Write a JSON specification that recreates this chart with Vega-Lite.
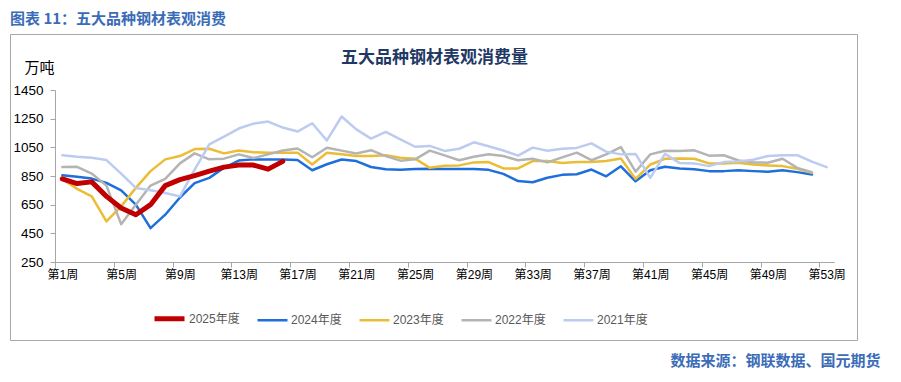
{
  "$schema": "https://vega.github.io/schema/vega-lite/v6.json",
  "width": 847,
  "height": 306,
  "autosize": {"type": "none"},
  "padding": {"left": 10, "top": 34, "right": 44, "bottom": 42},
  "background": "white",
  "config": {"view": {"stroke": "#a8a8a8", "strokeWidth": 1, "fill": "white"}},
  "title": {
    "text": "图表 11：五大品种钢材表观消费",
    "anchor": "start",
    "frame": "group",
    "orient": "top",
    "offset": 11,
    "dy": 15.5,
    "baseline": "alphabetic",
    "font": "Noto Sans CJK SC",
    "fontSize": 15,
    "fontWeight": "bold",
    "color": "#3b6cb7"
  },
  "data": {
    "values": [
      {"w":1,"s":"2025年度","v":830},{"w":2,"s":"2025年度","v":797},{"w":3,"s":"2025年度","v":809},{"w":4,"s":"2025年度","v":708},{"w":5,"s":"2025年度","v":627},{"w":6,"s":"2025年度","v":580},{"w":7,"s":"2025年度","v":650},{"w":8,"s":"2025年度","v":783},{"w":9,"s":"2025年度","v":825},{"w":10,"s":"2025年度","v":853},{"w":11,"s":"2025年度","v":884},{"w":12,"s":"2025年度","v":912},{"w":13,"s":"2025年度","v":926},{"w":14,"s":"2025年度","v":926},{"w":15,"s":"2025年度","v":898},{"w":16,"s":"2025年度","v":952},
      {"w":1,"s":"2024年度","v":856},{"w":2,"s":"2024年度","v":844},{"w":3,"s":"2024年度","v":832},{"w":4,"s":"2024年度","v":802},{"w":5,"s":"2024年度","v":750},{"w":6,"s":"2024年度","v":650},{"w":7,"s":"2024年度","v":486},{"w":8,"s":"2024年度","v":580},{"w":9,"s":"2024年度","v":700},{"w":10,"s":"2024年度","v":800},{"w":11,"s":"2024年度","v":837},{"w":12,"s":"2024年度","v":907},{"w":13,"s":"2024年度","v":958},{"w":14,"s":"2024年度","v":966},{"w":15,"s":"2024年度","v":965},{"w":16,"s":"2024年度","v":965},{"w":17,"s":"2024年度","v":962},{"w":18,"s":"2024年度","v":890},{"w":19,"s":"2024年度","v":932},{"w":20,"s":"2024年度","v":965},{"w":21,"s":"2024年度","v":954},{"w":22,"s":"2024年度","v":913},{"w":23,"s":"2024年度","v":897},{"w":24,"s":"2024年度","v":894},{"w":25,"s":"2024年度","v":898},{"w":26,"s":"2024年度","v":900},{"w":27,"s":"2024年度","v":898},{"w":28,"s":"2024年度","v":898},{"w":29,"s":"2024年度","v":899},{"w":30,"s":"2024年度","v":893},{"w":31,"s":"2024年度","v":865},{"w":32,"s":"2024年度","v":815},{"w":33,"s":"2024年度","v":806},{"w":34,"s":"2024年度","v":838},{"w":35,"s":"2024年度","v":858},{"w":36,"s":"2024年度","v":862},{"w":37,"s":"2024年度","v":895},{"w":38,"s":"2024年度","v":848},{"w":39,"s":"2024年度","v":918},{"w":40,"s":"2024年度","v":813},{"w":41,"s":"2024年度","v":890},{"w":42,"s":"2024年度","v":914},{"w":43,"s":"2024年度","v":902},{"w":44,"s":"2024年度","v":897},{"w":45,"s":"2024年度","v":884},{"w":46,"s":"2024年度","v":884},{"w":47,"s":"2024年度","v":890},{"w":48,"s":"2024年度","v":884},{"w":49,"s":"2024年度","v":880},{"w":50,"s":"2024年度","v":890},{"w":51,"s":"2024年度","v":877},{"w":52,"s":"2024年度","v":860},
      {"w":1,"s":"2023年度","v":830},{"w":2,"s":"2023年度","v":760},{"w":3,"s":"2023年度","v":708},{"w":4,"s":"2023年度","v":533},{"w":5,"s":"2023年度","v":638},{"w":6,"s":"2023年度","v":767},{"w":7,"s":"2023年度","v":884},{"w":8,"s":"2023年度","v":966},{"w":9,"s":"2023年度","v":989},{"w":10,"s":"2023年度","v":1038},{"w":11,"s":"2023年度","v":1040},{"w":12,"s":"2023年度","v":1008},{"w":13,"s":"2023年度","v":1028},{"w":14,"s":"2023年度","v":1015},{"w":15,"s":"2023年度","v":1013},{"w":16,"s":"2023年度","v":1013},{"w":17,"s":"2023年度","v":1013},{"w":18,"s":"2023年度","v":930},{"w":19,"s":"2023年度","v":1012},{"w":20,"s":"2023年度","v":1001},{"w":21,"s":"2023年度","v":989},{"w":22,"s":"2023年度","v":989},{"w":23,"s":"2023年度","v":994},{"w":24,"s":"2023年度","v":978},{"w":25,"s":"2023年度","v":971},{"w":26,"s":"2023年度","v":907},{"w":27,"s":"2023年度","v":922},{"w":28,"s":"2023年度","v":924},{"w":29,"s":"2023年度","v":945},{"w":30,"s":"2023年度","v":947},{"w":31,"s":"2023年度","v":903},{"w":32,"s":"2023年度","v":903},{"w":33,"s":"2023年度","v":954},{"w":34,"s":"2023年度","v":954},{"w":35,"s":"2023年度","v":940},{"w":36,"s":"2023年度","v":947},{"w":37,"s":"2023年度","v":947},{"w":38,"s":"2023年度","v":954},{"w":39,"s":"2023年度","v":972},{"w":40,"s":"2023年度","v":830},{"w":41,"s":"2023年度","v":930},{"w":42,"s":"2023年度","v":970},{"w":43,"s":"2023年度","v":972},{"w":44,"s":"2023年度","v":970},{"w":45,"s":"2023年度","v":938},{"w":46,"s":"2023年度","v":938},{"w":47,"s":"2023年度","v":943},{"w":48,"s":"2023年度","v":930},{"w":49,"s":"2023年度","v":924},{"w":50,"s":"2023年度","v":919},{"w":51,"s":"2023年度","v":900},{"w":52,"s":"2023年度","v":872},
      {"w":1,"s":"2022年度","v":912},{"w":2,"s":"2022年度","v":914},{"w":3,"s":"2022年度","v":867},{"w":4,"s":"2022年度","v":783},{"w":5,"s":"2022年度","v":514},{"w":6,"s":"2022年度","v":650},{"w":7,"s":"2022年度","v":783},{"w":8,"s":"2022年度","v":830},{"w":9,"s":"2022年度","v":938},{"w":10,"s":"2022年度","v":1008},{"w":11,"s":"2022年度","v":966},{"w":12,"s":"2022年度","v":971},{"w":13,"s":"2022年度","v":1001},{"w":14,"s":"2022年度","v":975},{"w":15,"s":"2022年度","v":1001},{"w":16,"s":"2022年度","v":1028},{"w":17,"s":"2022年度","v":1042},{"w":18,"s":"2022年度","v":981},{"w":19,"s":"2022年度","v":1047},{"w":20,"s":"2022年度","v":1027},{"w":21,"s":"2022年度","v":1007},{"w":22,"s":"2022年度","v":1030},{"w":23,"s":"2022年度","v":989},{"w":24,"s":"2022年度","v":957},{"w":25,"s":"2022年度","v":966},{"w":26,"s":"2022年度","v":1027},{"w":27,"s":"2022年度","v":994},{"w":28,"s":"2022年度","v":960},{"w":29,"s":"2022年度","v":984},{"w":30,"s":"2022年度","v":1001},{"w":31,"s":"2022年度","v":989},{"w":32,"s":"2022年度","v":960},{"w":33,"s":"2022年度","v":970},{"w":34,"s":"2022年度","v":945},{"w":35,"s":"2022年度","v":980},{"w":36,"s":"2022年度","v":1013},{"w":37,"s":"2022年度","v":960},{"w":38,"s":"2022年度","v":1001},{"w":39,"s":"2022年度","v":1052},{"w":40,"s":"2022年度","v":880},{"w":41,"s":"2022年度","v":1001},{"w":42,"s":"2022年度","v":1026},{"w":43,"s":"2022年度","v":1024},{"w":44,"s":"2022年度","v":1029},{"w":45,"s":"2022年度","v":992},{"w":46,"s":"2022年度","v":995},{"w":47,"s":"2022年度","v":958},{"w":48,"s":"2022年度","v":945},{"w":49,"s":"2022年度","v":943},{"w":50,"s":"2022年度","v":970},{"w":51,"s":"2022年度","v":907},{"w":52,"s":"2022年度","v":876},
      {"w":1,"s":"2021年度","v":994},{"w":2,"s":"2021年度","v":984},{"w":3,"s":"2021年度","v":978},{"w":4,"s":"2021年度","v":961},{"w":5,"s":"2021年度","v":867},{"w":6,"s":"2021年度","v":767},{"w":7,"s":"2021年度","v":750},{"w":8,"s":"2021年度","v":732},{"w":9,"s":"2021年度","v":708},{"w":10,"s":"2021年度","v":895},{"w":11,"s":"2021年度","v":1071},{"w":12,"s":"2021年度","v":1125},{"w":13,"s":"2021年度","v":1181},{"w":14,"s":"2021年度","v":1215},{"w":15,"s":"2021年度","v":1230},{"w":16,"s":"2021年度","v":1188},{"w":17,"s":"2021年度","v":1160},{"w":18,"s":"2021年度","v":1218},{"w":19,"s":"2021年度","v":1098},{"w":20,"s":"2021年度","v":1265},{"w":21,"s":"2021年度","v":1175},{"w":22,"s":"2021年度","v":1111},{"w":23,"s":"2021年度","v":1158},{"w":24,"s":"2021年度","v":1106},{"w":25,"s":"2021年度","v":1054},{"w":26,"s":"2021年度","v":1060},{"w":27,"s":"2021年度","v":1025},{"w":28,"s":"2021年度","v":1040},{"w":29,"s":"2021年度","v":1085},{"w":30,"s":"2021年度","v":1057},{"w":31,"s":"2021年度","v":1028},{"w":32,"s":"2021年度","v":992},{"w":33,"s":"2021年度","v":1048},{"w":34,"s":"2021年度","v":1026},{"w":35,"s":"2021年度","v":1040},{"w":36,"s":"2021年度","v":1046},{"w":37,"s":"2021年度","v":1078},{"w":38,"s":"2021年度","v":1020},{"w":39,"s":"2021年度","v":1001},{"w":40,"s":"2021年度","v":1004},{"w":41,"s":"2021年度","v":837},{"w":42,"s":"2021年度","v":1004},{"w":43,"s":"2021年度","v":940},{"w":44,"s":"2021年度","v":938},{"w":45,"s":"2021年度","v":919},{"w":46,"s":"2021年度","v":947},{"w":47,"s":"2021年度","v":952},{"w":48,"s":"2021年度","v":963},{"w":49,"s":"2021年度","v":989},{"w":50,"s":"2021年度","v":994},{"w":51,"s":"2021年度","v":995},{"w":52,"s":"2021年度","v":950},{"w":53,"s":"2021年度","v":912}
    ]
  },
  "layer": [
    {
      "transform": [{"filter": "datum.s != '2025年度'"}],
      "mark": {"type": "line", "strokeJoin": "round", "strokeCap": "round"},
      "encoding": {
        "x": {
          "field": "w", "type": "quantitative",
          "scale": {"domain": [0.5, 53.5], "range": [45, 824], "nice": false, "zero": false},
          "axis": {
            "values": [0.5,1.5,2.5,3.5,4.5,5.5,6.5,7.5,8.5,9.5,10.5,11.5,12.5,13.5,14.5,15.5,16.5,17.5,18.5,19.5,20.5,21.5,22.5,23.5,24.5,25.5,26.5,27.5,28.5,29.5,30.5,31.5,32.5,33.5,34.5,35.5,36.5,37.5,38.5,39.5,40.5,41.5,42.5,43.5,44.5,45.5,46.5,47.5,48.5,49.5,50.5,51.5,52.5,53.5],
            "labelExpr": "datum.value % 4 == 0.5 ? '第' + (datum.value + 0.5) + '周' : ''",
            "labelOffset": 7.35,
            "offset": -78,
            "grid": false,
            "domainColor": "#a6a6a6",
            "tickColor": "#a6a6a6",
            "tickSize": 5,
            "labelPadding": 2,
            "labelFontSize": 12,
            "labelFont": "Liberation Sans, Noto Sans CJK SC",
            "labelColor": "#000000",
            "labelFlush": false,
            "labelOverlap": false,
            "labelBound": false,
            "title": "数据来源：钢联数据、国元期货",
            "titleX": 870,
            "titleY": 98,
            "titleAlign": "right",
            "titleBaseline": "middle",
            "titleFont": "Noto Sans CJK SC",
            "titleFontSize": 15,
            "titleFontWeight": "bold",
            "titleColor": "#3b6cb7"
          }
        },
        "y": {
          "field": "v", "type": "quantitative",
          "scale": {"domain": [250, 1450], "range": [228, 56], "nice": false, "zero": false},
          "axis": {
            "orient": "left",
            "offset": -45,
            "values": [250, 450, 650, 850, 1050, 1250, 1450],
            "format": "d",
            "grid": false,
            "domainColor": "#a6a6a6",
            "tickColor": "#a6a6a6",
            "tickSize": 5,
            "labelPadding": 7,
            "labelFontSize": 13.5,
            "labelFont": "Liberation Sans",
            "labelColor": "#000000",
            "labelFlush": false,
            "labelOverlap": false,
            "title": "万吨",
            "titleAngle": 0,
            "titleX": -16,
            "titleY": 33,
            "titleAlign": "center",
            "titleBaseline": "middle",
            "titleFont": "Noto Sans CJK SC",
            "titleFontSize": 15,
            "titleFontWeight": "normal",
            "titleColor": "#000000"
          }
        },
        "color": {
          "field": "s", "type": "nominal",
          "scale": {"domain": ["2025年度","2024年度","2023年度","2022年度","2021年度"], "range": ["#c00000","#1e6fdc","#eabd35","#b4b4b4","#bccbef"]},
          "legend": {"title": null, "orient": "none", "legendX": 142, "legendY": 267, "direction": "horizontal", "symbolType": "stroke", "symbolSize": 900, "labelOffset": 2, "columnPadding": 12, "labelFontSize": 12, "labelFont": "Liberation Sans, Noto Sans CJK SC", "labelColor": "#595959", "padding": 0}
        },
        "strokeWidth": {
          "field": "s", "type": "nominal",
          "scale": {"type": "ordinal", "domain": ["2025年度","2024年度","2023年度","2022年度","2021年度"], "range": [5, 2.5, 2.5, 2.5, 2.5]},
          "legend": {"title": null, "orient": "none", "legendX": 142, "legendY": 267, "direction": "horizontal", "symbolType": "stroke", "symbolSize": 900, "labelOffset": 2, "columnPadding": 12, "labelFontSize": 12, "labelFont": "Liberation Sans, Noto Sans CJK SC", "labelColor": "#595959", "padding": 0}
        }
      }
    },
    {
      "transform": [{"filter": "datum.s == '2025年度'"}],
      "mark": {"type": "line", "strokeJoin": "round", "strokeCap": "round"},
      "encoding": {
        "x": {
          "field": "w", "type": "quantitative",
          "scale": {"domain": [0.5, 53.5], "range": [45, 824], "nice": false, "zero": false}
        },
        "y": {
          "field": "v", "type": "quantitative",
          "scale": {"domain": [250, 1450], "range": [228, 56], "nice": false, "zero": false},
          "axis": {
            "orient": "right",
            "offset": 0,
            "labels": false,
            "ticks": false,
            "domain": false,
            "grid": false,
            "title": "五大品种钢材表观消费量",
            "titleAngle": 0,
            "titleX": -423,
            "titleY": 23.5,
            "titleAlign": "center",
            "titleBaseline": "middle",
            "titleFont": "Noto Sans CJK SC",
            "titleFontSize": 17,
            "titleFontWeight": "bold",
            "titleColor": "#1f3864"
          }
        },
        "color": {
          "field": "s", "type": "nominal",
          "scale": {"domain": ["2025年度","2024年度","2023年度","2022年度","2021年度"], "range": ["#c00000","#1e6fdc","#eabd35","#b4b4b4","#bccbef"]}
        },
        "strokeWidth": {
          "field": "s", "type": "nominal",
          "scale": {"type": "ordinal", "domain": ["2025年度","2024年度","2023年度","2022年度","2021年度"], "range": [5, 2.5, 2.5, 2.5, 2.5]}
        }
      }
    }
  ],
  "resolve": {"axis": {"y": "independent"}}
}
